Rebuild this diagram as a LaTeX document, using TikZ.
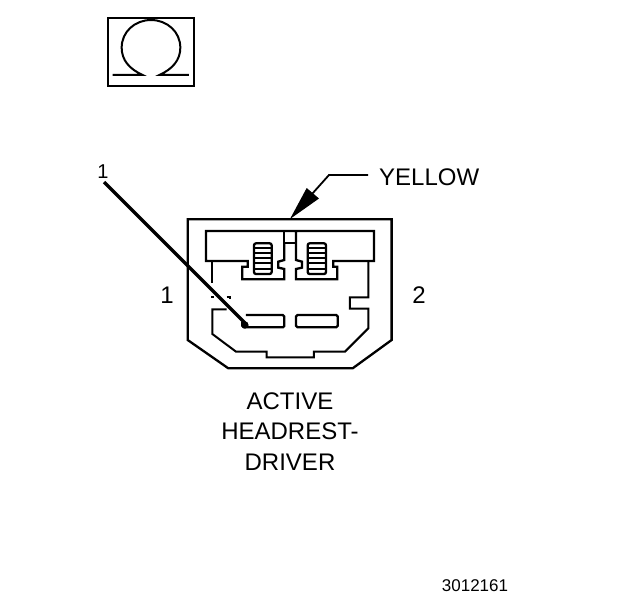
\documentclass[tikz,border=0pt]{standalone}
\usepackage{fontspec}
\setmainfont{Liberation Sans}
\tikzset{
  wire/.style={draw=black,line width=2.3pt,line join=miter,fill=none},
  thin wire/.style={draw=black,line width=1.8pt},
  lab/.style={inner sep=0pt,font=\fontsize{24}{29}\selectfont,text=black},
  zoomA/.style={shift={(170,200)},x=0.3333pt,y=-0.3333pt},
  zoomB/.style={shift={(90,5)},x=0.3333pt,y=-0.3333pt}
}
\begin{document}
\begin{tikzpicture}[x=1pt,y=-1pt]
\useasboundingbox (0,0) rectangle (624,600);
\fill[white] (0,0) rectangle (624,600);
% Omega symbol
\begin{scope}[zoomB]
\draw[wire] (53,38) rectangle (313,243);
\draw[wire,line width=2pt] (68,210) -- (158,210) .. controls (118,192) and (95,165) .. (95,128)
  .. controls (95,80) and (135,45) .. (183,45) .. controls (231,45) and (271,80) .. (271,128)
  .. controls (271,165) and (248,192) .. (208,210) -- (297,210);
\end{scope}
% Connector
\begin{scope}[zoomA]
\draw[wire] (53,58) -- (665,58) -- (665,420) -- (548,505) -- (175,505) -- (53,420) -- cycle;
\draw[wire] (343,130) -- (343,180) -- (325,185) -- (325,203) -- (343,207) -- (343,238) -- (217,238) -- (217,200) -- (233,200) -- (233,183) -- (108,183) -- (108,93) -- (612,93) -- (612,183) -- (490,183) -- (490,200) -- (502,200) -- (502,238) -- (378,238) -- (378,207) -- (396,203) -- (396,185) -- (378,180) -- (378,93);
\draw[wire] (343,93) -- (343,130) -- (378,130);
% pins
\draw[wire,rounded corners=2pt] (252,130) rectangle (305,222);
\draw[wire,rounded corners=2pt] (413,130) rectangle (468,222);
\foreach \y in {145,160,175,190,206}{
  \draw[thin wire] (252,\y) -- (305,\y);
  \draw[thin wire] (413,\y) -- (468,\y);
}
% housing inner walls
\draw[wire,line width=2pt] (127,183) -- (127,250);
\draw[wire,line width=2pt] (595,183) -- (595,292) -- (540,292) -- (540,326) -- (595,326) -- (595,385) -- (525,455) -- (432,455) -- (432,472) -- (290,472) -- (290,455) -- (198,455) -- (127,402) -- (127,328) -- (170,328);
\draw[thin wire] (124,292) -- (131,292);
\draw[thin wire] (170,292) -- (181,292) -- (181,298);
% slots
\draw[wire,rounded corners=1.5pt] (228,345) -- (343,345) -- (343,382) -- (217,382) -- (217,365);
\draw[wire,rounded corners=1.5pt] (378,345) rectangle (503,382);
\coordinate (slotend) at (228,372);
\end{scope}
% labels
\node[lab,anchor=base,font=\fontsize{20}{24}\selectfont] (pinone) at (103,178) {1};
\coordinate (leaderstart) at (104,182);
\draw[line width=3.2pt,draw=black] (leaderstart) -- (slotend);
\fill[black] (245,325) circle (3.6pt);
\node[lab,anchor=base west] (yellow) at (379,185) {YELLOW};
\coordinate (yellowend) at (368,175);
\coordinate (bend) at (329,175);
\coordinate (tip) at (290,219);
\draw[line width=1.8pt] (yellowend) -- (bend) -- (312,194);
\fill[black] (tip) -- (306.7,188) -- (319,198.5) -- cycle;
\node[lab,anchor=base] (one) at (167,303) {1};
\node[lab,anchor=base] (two) at (419,303) {2};
\node[lab,anchor=base] (l1) at (290,409) {ACTIVE};
\node[lab,anchor=base] (l2) at (290,439) {HEADREST-};
\node[lab,anchor=base] (l3) at (290,470) {DRIVER};
\node[lab,anchor=base,font=\fontsize{17}{20}\selectfont] (code) at (475,591) {3012161};
\end{tikzpicture}
\end{document}
